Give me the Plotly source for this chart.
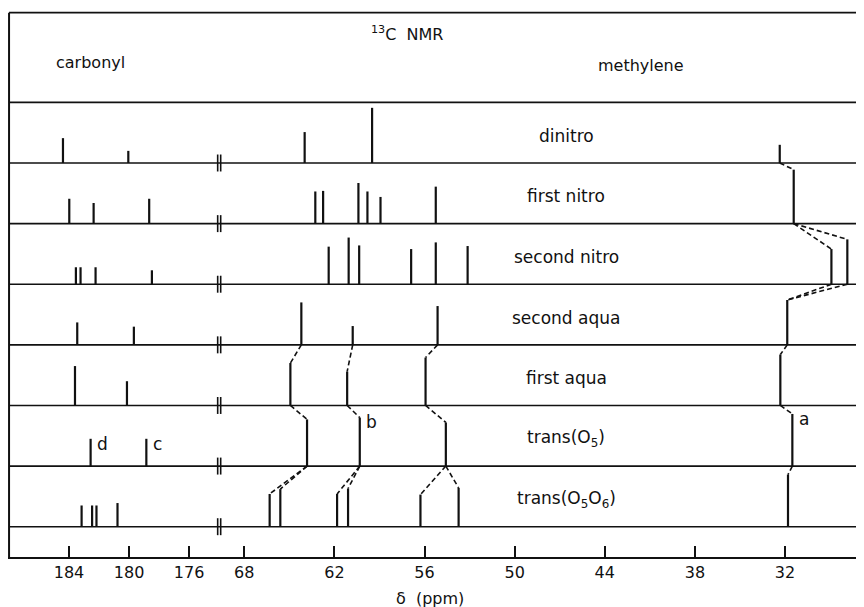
import plotly.graph_objects as go

# ---------------- data ----------------
row_names = ["dinitro", "first nitro", "second nitro", "second aqua",
             "first aqua", "trans(O<sub>5</sub>)", "trans(O<sub>5</sub>O<sub>6</sub>)"]

dinitro_ppm = [184.4, 180.05, 63.98, 59.49, 32.35]
dinitro_int = [0.41, 0.20, 0.51, 0.91, 0.30]
first_nitro_ppm = [183.98, 182.36, 178.66, 63.27, 62.75, 60.4, 59.8, 58.93, 55.25, 31.42]
first_nitro_int = [0.41, 0.34, 0.41, 0.53, 0.54, 0.67, 0.53, 0.44, 0.61, 0.89]
second_nitro_ppm = [183.54, 183.23, 182.23, 178.48, 62.38, 61.05, 60.35, 56.89, 55.25, 53.13, 28.91, 27.85]
second_nitro_int = [0.28, 0.28, 0.28, 0.23, 0.62, 0.77, 0.64, 0.58, 0.69, 0.63, 0.58, 0.74]
second_aqua_ppm = [183.45, 179.68, 64.2, 60.78, 55.13, 31.85]
second_aqua_int = [0.37, 0.30, 0.70, 0.31, 0.64, 0.74]
first_aqua_ppm = [183.6, 180.14, 64.93, 61.15, 55.93, 32.31]
first_aqua_int = [0.65, 0.40, 0.70, 0.56, 0.79, 0.84]
trans_o5_ppm = [182.56, 178.85, 63.82, 60.31, 54.58, 31.51]
trans_o5_int = [0.45, 0.45, 0.77, 0.80, 0.72, 0.86]
trans_o5o6_ppm = [183.16, 182.46, 182.17, 180.77, 66.31, 65.6, 61.82, 61.09, 56.27, 53.73, 31.8]
trans_o5o6_int = [0.35, 0.35, 0.35, 0.39, 0.54, 0.62, 0.54, 0.63, 0.53, 0.64, 0.86]

row_ppm = [dinitro_ppm, first_nitro_ppm, second_nitro_ppm, second_aqua_ppm,
           first_aqua_ppm, trans_o5_ppm, trans_o5o6_ppm]
row_int = [dinitro_int, first_nitro_int, second_nitro_int, second_aqua_int,
           first_aqua_int, trans_o5_int, trans_o5o6_int]

# correlation links: (row index of source, source ppm, target ppm in next row)
link_row = [0, 1, 1, 2, 2, 3, 3, 3, 3, 4, 4, 4, 4, 5, 5, 5, 5, 5, 5, 5]
link_from = [32.35, 31.42, 31.42, 28.91, 27.85, 64.2, 60.78, 55.13, 31.85,
             64.93, 61.15, 55.93, 32.31, 63.82, 63.82, 60.31, 60.31, 54.58, 54.58, 31.51]
link_to = [31.42, 28.91, 27.85, 31.85, 31.85, 64.93, 61.15, 55.93, 32.31,
           63.82, 60.31, 54.58, 31.51, 66.31, 65.6, 61.82, 61.09, 56.27, 53.73, 31.8]

assign_ppm = [31.51, 60.31, 178.85, 182.56]
assign_txt = ["a", "b", "c", "d"]

tick_ppm = [184, 180, 176, 68, 62, 56, 50, 44, 38, 32]

# ---------------- axis mapping (broken axis) ----------------
CARBONYL_SHIFT = 104.33   # carbonyl region drawn shifted next to the 68 ppm region
BREAK_PPM = 174.0


def xpos(p):
    return p - CARBONYL_SHIFT if p > 100 else p


X_LEFT, X_RIGHT = 83.73, 26.74
X_FRAME = 83.66
Y_BOTTOM, Y_TOP = -6.5, 2.557
FRAME_TOP = 2.48
HEADER = 1.0
INK = "#111111"

fig = go.Figure()

# baselines, header line, top frame line
bx, by = [], []
for i in range(len(row_names)):
    bx += [X_FRAME, X_RIGHT, None]
    by += [-i, -i, None]
bx += [X_FRAME, X_RIGHT, None]
by += [HEADER, HEADER, None]
bx += [X_FRAME, X_RIGHT]
by += [FRAME_TOP, FRAME_TOP]
fig.add_trace(go.Scatter(x=bx, y=by, mode="lines", line=dict(color=INK, width=1.6),
                         hoverinfo="skip", showlegend=False))

# left frame
fig.add_trace(go.Scatter(x=[X_FRAME, X_FRAME], y=[FRAME_TOP, Y_BOTTOM], mode="lines",
                         line=dict(color=INK, width=2), hoverinfo="skip", showlegend=False))

# break marks
brk = xpos(BREAK_PPM)
kx, ky = [], []
for i in range(len(row_names)):
    for d in (0.0, -0.2):
        kx += [brk + 0.1 + d, brk + 0.1 + d, None]
        ky += [-i - 0.14, -i + 0.14, None]
fig.add_trace(go.Scatter(x=kx, y=ky, mode="lines", line=dict(color=INK, width=1.6),
                         hoverinfo="skip", showlegend=False))

# peaks
px, py = [], []
for i, (pp, ii) in enumerate(zip(row_ppm, row_int)):
    for p, h in zip(pp, ii):
        px += [xpos(p), xpos(p), None]
        py += [-i, -i + h, None]
fig.add_trace(go.Scatter(x=px, y=py, mode="lines", line=dict(color=INK, width=2.2),
                         hoverinfo="skip", showlegend=False))

# correlation dashed links
lx, ly = [], []
for r, a, b in zip(link_row, link_from, link_to):
    nxt = r + 1
    h = row_int[nxt][row_ppm[nxt].index(b)]
    lx += [xpos(a), xpos(b), None]
    ly += [-r, -nxt + h, None]
fig.add_trace(go.Scatter(x=lx, y=ly, mode="lines",
                         line=dict(color=INK, width=1.6, dash="5px,3px"),
                         hoverinfo="skip", showlegend=False))

FONT = "DejaVu Sans"
ann = []
for i, name in enumerate(row_names):
    ann.append(dict(x=46.58, y=-i + 0.45, text=name, showarrow=False,
                    xanchor="center", yanchor="middle",
                    font=dict(family=FONT, size=17, color=INK)))

# assignment letters on trans(O5)
r5 = 5
for p, t in zip(assign_ppm, assign_txt):
    h = row_int[r5][row_ppm[r5].index(p)]
    ann.append(dict(x=xpos(p) - 0.3, y=-r5 + h - 0.08, text=t, showarrow=False,
                    xanchor="left", yanchor="middle",
                    font=dict(family=FONT, size=17, color=INK)))

ann.append(dict(x=78.27, y=1.665, text="carbonyl", showarrow=False,
                xanchor="center", yanchor="middle",
                font=dict(family=FONT, size=16, color=INK)))
ann.append(dict(x=41.59, y=1.615, text="methylene", showarrow=False,
                xanchor="center", yanchor="middle",
                font=dict(family=FONT, size=16, color=INK)))
ann.append(dict(x=57.17, y=2.14, text="<sup>13</sup>C  NMR", showarrow=False,
                xanchor="center", yanchor="middle",
                font=dict(family=FONT, size=16, color=INK)))
ann.append(dict(x=0.493, y=-0.0747, xref="paper", yref="paper", text="δ  (ppm)",
                showarrow=False, xanchor="center", yanchor="middle",
                font=dict(family=FONT, size=16, color=INK)))

fig.update_layout(
    width=856, height=599,
    margin=dict(l=0, r=0, t=0, b=50),
    paper_bgcolor="white", plot_bgcolor="white",
    showlegend=False,
    annotations=ann,
    xaxis=dict(range=[X_LEFT, X_RIGHT], showgrid=False, zeroline=False,
               showline=True, linecolor=INK, linewidth=2,
               tickmode="array", tickvals=[xpos(t) for t in tick_ppm],
               ticktext=[str(t) for t in tick_ppm],
               ticks="inside", ticklen=11, tickwidth=1.5, tickcolor=INK,
               tickfont=dict(family=FONT, size=16, color=INK)),
    yaxis=dict(range=[Y_BOTTOM, Y_TOP], showgrid=False, zeroline=False,
               showticklabels=False, showline=False, ticks=""),
)

fig.write_html("out.html")
